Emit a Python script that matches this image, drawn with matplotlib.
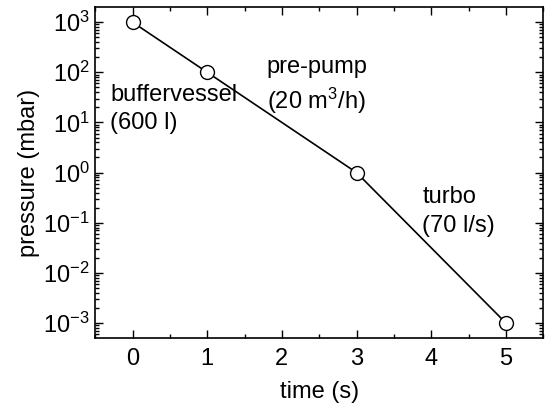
import matplotlib
matplotlib.use("Agg")
import matplotlib.pyplot as plt
from matplotlib.ticker import LogLocator, MultipleLocator, NullFormatter

plt.rcParams['font.family'] = ['Liberation Sans', 'DejaVu Sans']
plt.rcParams['mathtext.fontset'] = 'custom'
plt.rcParams['mathtext.rm'] = 'Liberation Sans'
plt.rcParams['mathtext.it'] = 'Liberation Sans:italic'
plt.rcParams['mathtext.bf'] = 'Liberation Sans:bold'

time_s = [0, 1, 3, 5]
pressure_mbar = [1000, 100, 1, 0.001]
x_ticks = [0, 1, 2, 3, 4, 5]

fig = plt.figure(figsize=(5.47, 4.09), dpi=100)
ax = fig.add_axes([0.174, 0.1736, 0.819, 0.809])

ax.plot(time_s, pressure_mbar, color='black', lw=1.2, marker='o', ms=10,
        mfc='white', mec='black', mew=1.0, zorder=3)
ax.set_yscale('log')
ax.set_xlim(-0.5, 5.5)
ax.set_ylim(10**-3.3, 10**3.3)
ax.set_xticks(x_ticks)
ax.xaxis.set_minor_locator(MultipleLocator(0.5))
ax.yaxis.set_major_locator(LogLocator(base=10, numticks=20))
ax.yaxis.set_minor_locator(LogLocator(base=10, subs=range(2, 10), numticks=20))
ax.yaxis.set_minor_formatter(NullFormatter())

ax.tick_params(which='both', direction='in', top=True, right=True, labelsize=17, width=1.0)
ax.tick_params(which='major', length=6)
ax.tick_params(which='minor', length=3)
ax.tick_params(axis='x', which='major', pad=7)
ax.tick_params(axis='y', which='major', pad=4)
for s in ax.spines.values():
    s.set_linewidth(1.2)

ax.set_xlabel('time (s)', fontsize=17, labelpad=8)
ax.set_ylabel('pressure (mbar)', fontsize=17, labelpad=2)

fs = 17
ax.text(-0.3, 10**1.54, 'buffervessel', fontsize=fs, va='center', ha='left')
ax.text(-0.3, 10**0.98, '(600 l)', fontsize=fs, va='center', ha='left')
ax.text(1.8, 10**2.1, 'pre-pump', fontsize=fs, va='center', ha='left')
ax.text(1.8, 10**1.42, '(20 m$^3$/h)', fontsize=fs, va='center', ha='left')
ax.text(3.88, 10**-0.48, 'turbo', fontsize=fs, va='center', ha='left')
ax.text(3.88, 10**-1.06, '(70 l/s)', fontsize=fs, va='center', ha='left')

fig.savefig('out.png', dpi=100)
